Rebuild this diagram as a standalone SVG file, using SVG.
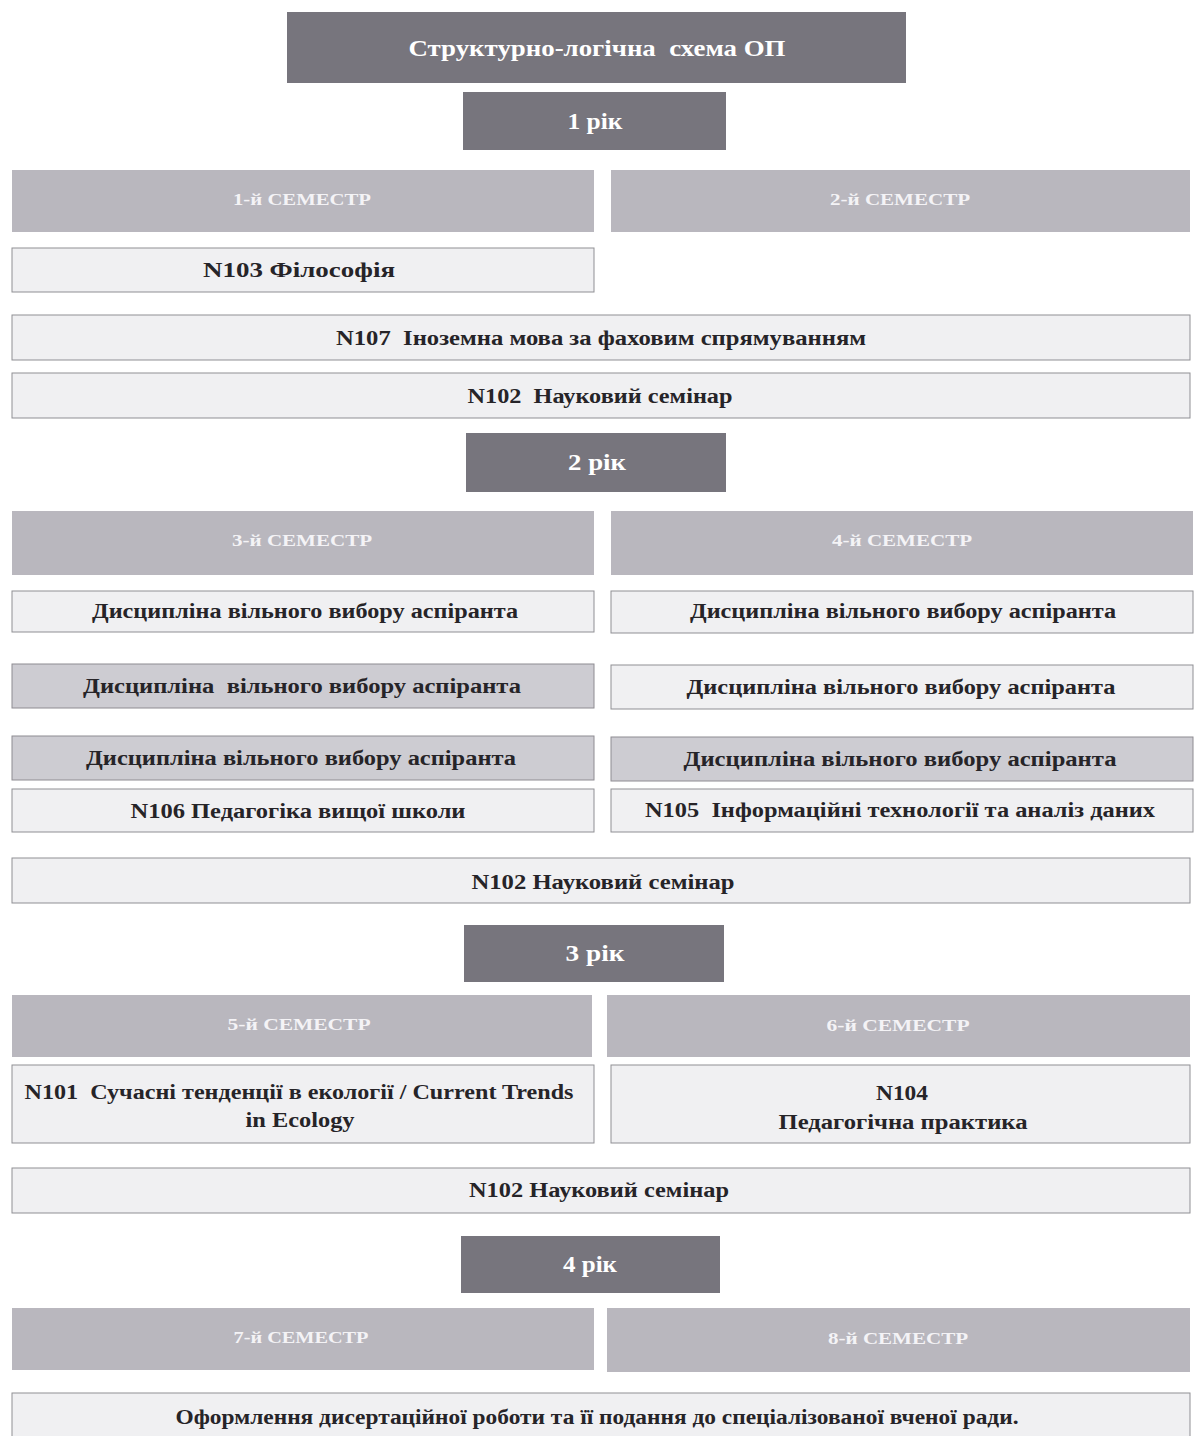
<svg xmlns="http://www.w3.org/2000/svg" width="1197" height="1436" viewBox="0 0 1197 1436">
<style>
.dark{fill:#77757d;}
.sem{fill:#b9b7be;}
.mid{fill:#cdccd2;stroke:#8e8c92;stroke-width:1;}
.lite{fill:#f0f0f2;stroke:#8f8f94;stroke-width:1;}
.t{font-family:"Liberation Serif","Times New Roman",serif;font-weight:bold;text-anchor:middle;white-space:pre;}
.tw{fill:#ffffff;}
.tk{fill:#262428;font-size:20px;}
.ts{fill:#f4f3f6;font-size:16px;}
</style>
<rect width="1197" height="1436" fill="#ffffff"/>
<g id="title"><rect class="dark" x="287" y="12" width="619" height="71"/><text class="t tw" x="597" y="56" font-size="23" textLength="377" lengthAdjust="spacingAndGlyphs">Структурно-логічна  схема ОП</text></g>
<g id="year1"><rect class="dark" x="463" y="92" width="263" height="58"/><text class="t tw" x="595" y="129" font-size="23" textLength="55" lengthAdjust="spacingAndGlyphs">1 рік</text></g>
<g id="sem1"><rect class="sem" x="12" y="170" width="582" height="62"/><text class="t ts" x="302" y="205" textLength="138" lengthAdjust="spacingAndGlyphs">1-й СЕМЕСТР</text></g>
<g id="sem2"><rect class="sem" x="611" y="170" width="579" height="62"/><text class="t ts" x="900" y="205" textLength="140" lengthAdjust="spacingAndGlyphs">2-й СЕМЕСТР</text></g>
<g id="n103"><rect class="lite" x="12" y="248" width="582" height="44"/><text class="t tk" x="299" y="277" textLength="192" lengthAdjust="spacingAndGlyphs">N103 Філософія</text></g>
<g id="n107"><rect class="lite" x="12" y="315" width="1178" height="45"/><text class="t tk" x="601" y="345" textLength="530" lengthAdjust="spacingAndGlyphs">N107  Іноземна мова за фаховим спрямуванням</text></g>
<g id="n102a"><rect class="lite" x="12" y="373" width="1178" height="45"/><text class="t tk" x="600" y="403" textLength="265" lengthAdjust="spacingAndGlyphs">N102  Науковий семінар</text></g>
<g id="year2"><rect class="dark" x="466" y="433" width="260" height="59"/><text class="t tw" x="597" y="470" font-size="23" textLength="58" lengthAdjust="spacingAndGlyphs">2 рік</text></g>
<g id="sem3"><rect class="sem" x="12" y="511" width="582" height="64"/><text class="t ts" x="302" y="546" textLength="140" lengthAdjust="spacingAndGlyphs">3-й СЕМЕСТР</text></g>
<g id="sem4"><rect class="sem" x="611" y="511" width="582" height="64"/><text class="t ts" x="902" y="546" textLength="140" lengthAdjust="spacingAndGlyphs">4-й СЕМЕСТР</text></g>
<g id="d3a"><rect class="lite" x="12" y="591" width="582" height="41"/><text class="t tk" x="305" y="618" textLength="426" lengthAdjust="spacingAndGlyphs">Дисципліна вільного вибору аспіранта</text></g>
<g id="d3b"><rect class="mid" x="12" y="664" width="582" height="44"/><text class="t tk" x="302" y="693" textLength="438" lengthAdjust="spacingAndGlyphs">Дисципліна  вільного вибору аспіранта</text></g>
<g id="d3c"><rect class="mid" x="12" y="736" width="582" height="44"/><text class="t tk" x="301" y="765" textLength="430" lengthAdjust="spacingAndGlyphs">Дисципліна вільного вибору аспіранта</text></g>
<g id="n106"><rect class="lite" x="12" y="789" width="582" height="43"/><text class="t tk" x="298" y="818" textLength="335" lengthAdjust="spacingAndGlyphs">N106 Педагогіка вищої школи</text></g>
<g id="d4a"><rect class="lite" x="611" y="591" width="582" height="42"/><text class="t tk" x="903" y="618" textLength="426" lengthAdjust="spacingAndGlyphs">Дисципліна вільного вибору аспіранта</text></g>
<g id="d4b"><rect class="lite" x="611" y="665" width="582" height="44"/><text class="t tk" x="901" y="694" textLength="429" lengthAdjust="spacingAndGlyphs">Дисципліна вільного вибору аспіранта</text></g>
<g id="d4c"><rect class="mid" x="611" y="737" width="582" height="44"/><text class="t tk" x="900" y="766" textLength="433" lengthAdjust="spacingAndGlyphs">Дисципліна вільного вибору аспіранта</text></g>
<g id="n105"><rect class="lite" x="611" y="789" width="582" height="43"/><text class="t tk" x="900" y="817" textLength="510" lengthAdjust="spacingAndGlyphs">N105  Інформаційні технології та аналіз даних</text></g>
<g id="n102b"><rect class="lite" x="12" y="858" width="1178" height="45"/><text class="t tk" x="603" y="889" textLength="263" lengthAdjust="spacingAndGlyphs">N102 Науковий семінар</text></g>
<g id="year3"><rect class="dark" x="464" y="925" width="260" height="57"/><text class="t tw" x="595" y="961" font-size="23" textLength="59" lengthAdjust="spacingAndGlyphs">3 рік</text></g>
<g id="sem5"><rect class="sem" x="12" y="995" width="580" height="62"/><text class="t ts" x="299" y="1030" textLength="143" lengthAdjust="spacingAndGlyphs">5-й СЕМЕСТР</text></g>
<g id="sem6"><rect class="sem" x="607" y="995" width="583" height="62"/><text class="t ts" x="898" y="1031" textLength="143" lengthAdjust="spacingAndGlyphs">6-й СЕМЕСТР</text></g>
<g id="n101"><rect class="lite" x="12" y="1065" width="582" height="78"/><text class="t tk" x="299" y="1099" textLength="549" lengthAdjust="spacingAndGlyphs">N101  Сучасні тенденції в екології / Current Trends</text><text class="t tk" x="300" y="1127" textLength="109" lengthAdjust="spacingAndGlyphs">in Ecology</text></g>
<g id="n104"><rect class="lite" x="611" y="1065" width="579" height="78"/><text class="t tk" x="902" y="1100" textLength="52" lengthAdjust="spacingAndGlyphs">N104</text><text class="t tk" x="903" y="1129" textLength="249" lengthAdjust="spacingAndGlyphs">Педагогічна практика</text></g>
<g id="n102c"><rect class="lite" x="12" y="1168" width="1178" height="45"/><text class="t tk" x="599" y="1197" textLength="260" lengthAdjust="spacingAndGlyphs">N102 Науковий семінар</text></g>
<g id="year4"><rect class="dark" x="461" y="1236" width="259" height="57"/><text class="t tw" x="590" y="1272" font-size="23" textLength="54" lengthAdjust="spacingAndGlyphs">4 рік</text></g>
<g id="sem7"><rect class="sem" x="12" y="1308" width="582" height="62"/><text class="t ts" x="301" y="1343" textLength="135" lengthAdjust="spacingAndGlyphs">7-й СЕМЕСТР</text></g>
<g id="sem8"><rect class="sem" x="607" y="1308" width="583" height="64"/><text class="t ts" x="898" y="1344" textLength="140" lengthAdjust="spacingAndGlyphs">8-й СЕМЕСТР</text></g>
<g id="final"><rect class="lite" x="12" y="1393" width="1178" height="50"/><text class="t tk" x="597" y="1424" textLength="843" lengthAdjust="spacingAndGlyphs">Оформлення дисертаційної роботи та її подання до спеціалізованої вченої ради.</text></g>
<g id="connectors"></g>
</svg>
